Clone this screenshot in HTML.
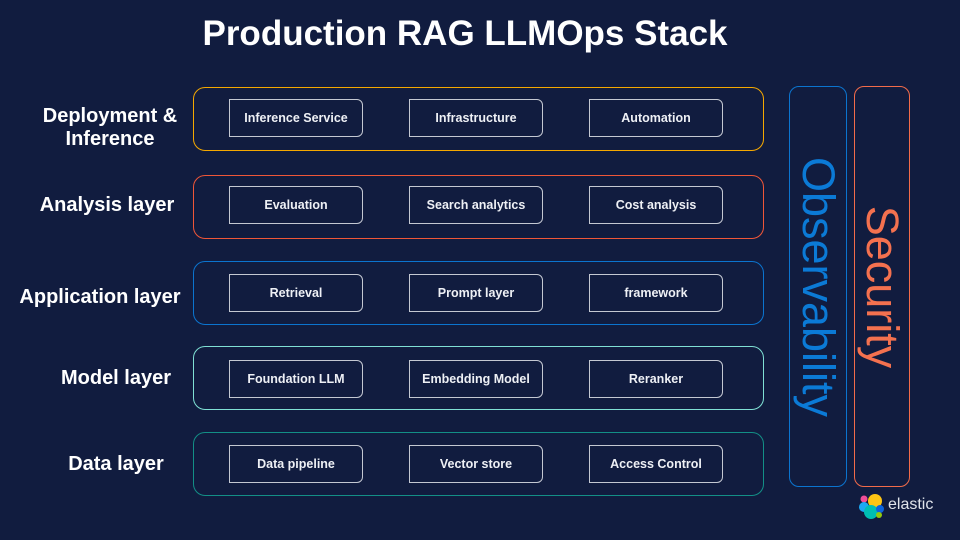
<!DOCTYPE html>
<html><head><style>
*{margin:0;padding:0;box-sizing:border-box}
body{width:960px;height:540px;background:#111c3f;position:relative;overflow:hidden;font-family:"Liberation Sans",sans-serif;color:#fff}
.t{position:absolute;left:0;width:930px;top:14px;text-align:center;font-size:35px;font-weight:bold}
.lab{position:absolute;left:5px;width:210px;text-align:center;font-size:20px;font-weight:bold;line-height:23px}
.row{position:absolute;left:193px;width:571px;height:64px;border:1.5px solid;border-radius:12px}
.n{position:absolute;width:134px;height:38px;border:1.5px solid #c4c8d2;border-radius:0 6px 6px 0;font-size:12.5px;font-weight:bold;display:flex;align-items:center;justify-content:center;color:#eef0f5}
.col{position:absolute;top:86px;height:401px;border:1.5px solid;border-radius:10px}
.vt{position:absolute;left:50%;top:50%;transform:translate(-50%,-50%) rotate(90deg);white-space:nowrap;font-size:45px}
</style></head><body>
<div class="t">Production RAG LLMOps Stack</div>

<div class="lab" style="top:105px">Deployment &amp;<br>Inference</div>
<div class="lab" style="top:194px;left:2px">Analysis layer</div>
<div class="lab" style="top:286px;left:-5px">Application layer</div>
<div class="lab" style="top:367px;left:11px">Model layer</div>
<div class="lab" style="top:453px;left:11px">Data layer</div>

<div class="row" style="top:87px;border-color:#f5a800"></div>
<div class="row" style="top:175px;border-color:#ef5638"></div>
<div class="row" style="top:261px;border-color:#0b74cf"></div>
<div class="row" style="top:346px;border-color:#7fe0d4"></div>
<div class="row" style="top:432px;border-color:#138f86"></div>

<div class="n" style="left:229px;top:99px">Inference Service</div>
<div class="n" style="left:409px;top:99px">Infrastructure</div>
<div class="n" style="left:589px;top:99px">Automation</div>
<div class="n" style="left:229px;top:186px">Evaluation</div>
<div class="n" style="left:409px;top:186px">Search analytics</div>
<div class="n" style="left:589px;top:186px">Cost analysis</div>
<div class="n" style="left:229px;top:274px">Retrieval</div>
<div class="n" style="left:409px;top:274px">Prompt layer</div>
<div class="n" style="left:589px;top:274px">framework</div>
<div class="n" style="left:229px;top:360px">Foundation LLM</div>
<div class="n" style="left:409px;top:360px">Embedding Model</div>
<div class="n" style="left:589px;top:360px">Reranker</div>
<div class="n" style="left:229px;top:445px">Data pipeline</div>
<div class="n" style="left:409px;top:445px">Vector store</div>
<div class="n" style="left:589px;top:445px">Access Control</div>

<div class="col" style="left:789px;width:58px;border-color:#0b74cf"><div class="vt" style="color:#0b7ad6">Observability</div></div>
<div class="col" style="left:854px;width:56px;border-color:#f26b4a"><div class="vt" style="color:#f4714f">Security</div></div>

<svg style="position:absolute;left:858px;top:492px" width="28" height="28" viewBox="0 0 28 28">
<circle cx="17" cy="9" r="7" fill="#fec514"/>
<circle cx="6" cy="7" r="3.5" fill="#f04e98"/>
<circle cx="6" cy="15" r="5" fill="#1ba9f5"/>
<circle cx="13" cy="20" r="7" fill="#00bfb3"/>
<circle cx="22" cy="17" r="4" fill="#0b64dd"/>
<circle cx="21" cy="23" r="3" fill="#93c90e"/>
</svg>
<div style="position:absolute;left:888px;top:496px;font-size:16px;color:#dfe3ea">elastic</div>
</body></html>
